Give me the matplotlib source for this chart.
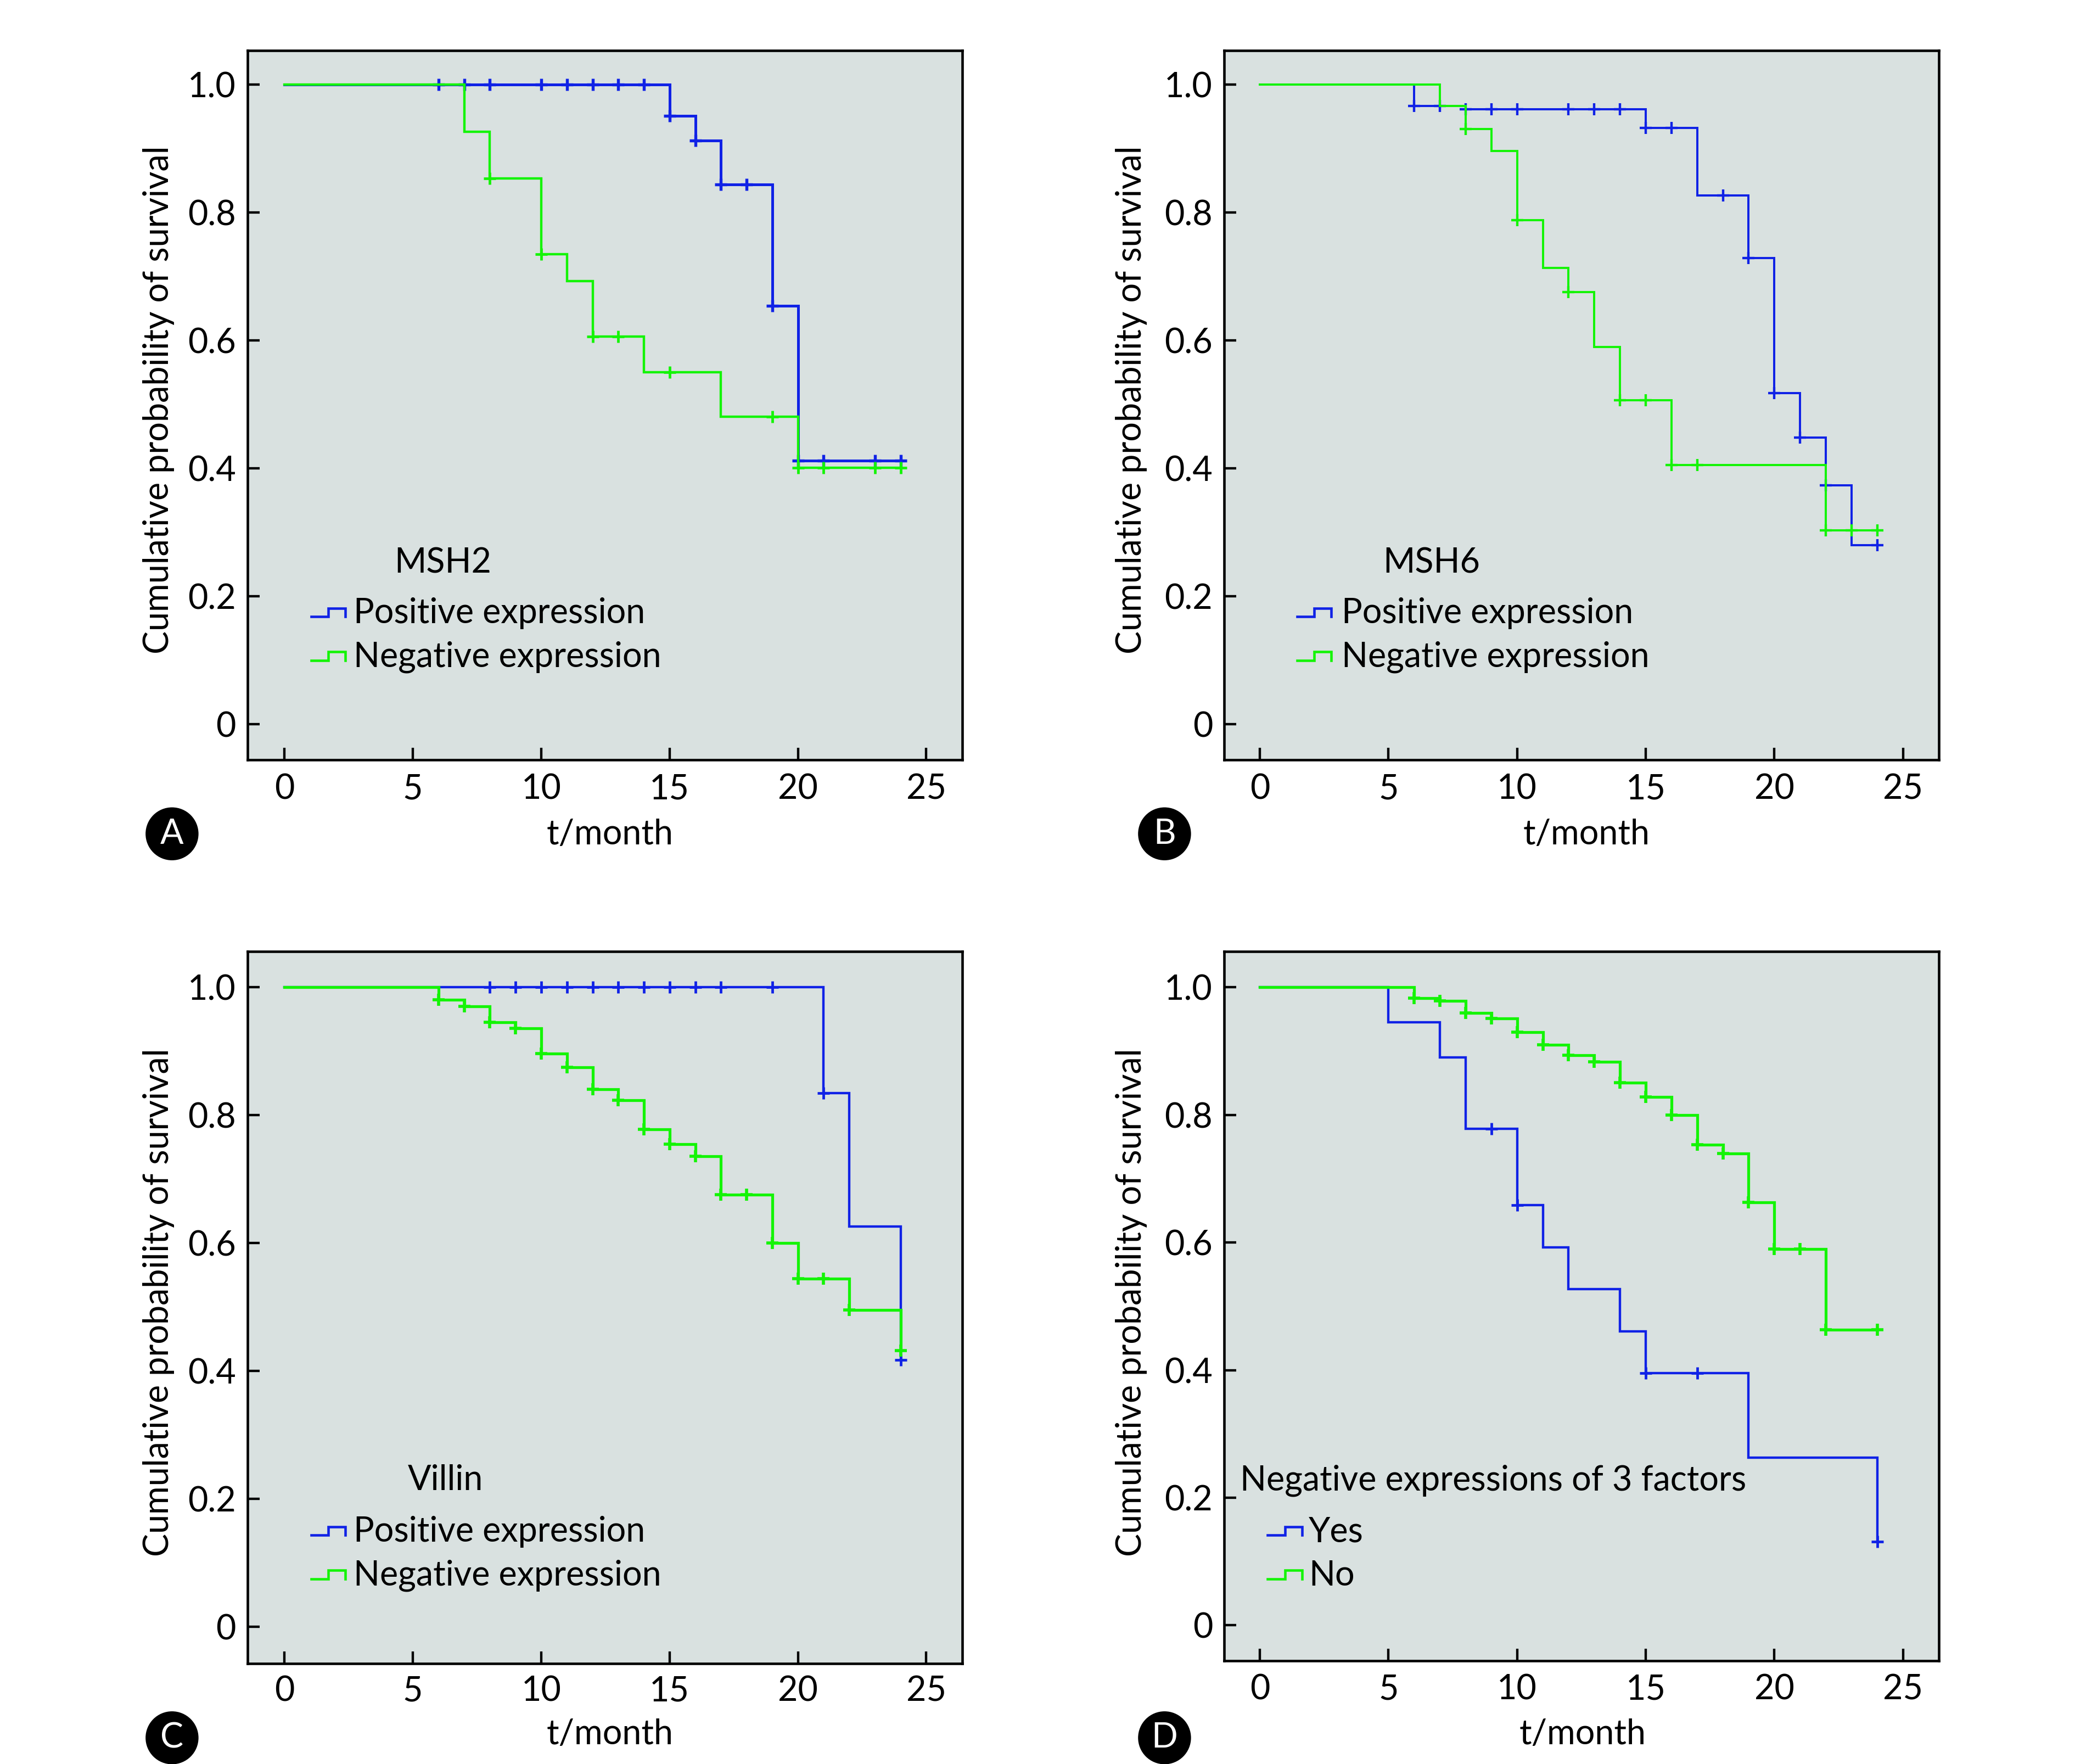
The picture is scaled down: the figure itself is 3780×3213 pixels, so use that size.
import matplotlib
matplotlib.use('Agg')
import matplotlib.pyplot as plt
from matplotlib.patches import Circle

plt.rcParams['font.family'] = ['Lato', 'DejaVu Sans']

W, H = 3780, 3213
S = 3780/1568  # the layout

BLUE = '#1022e6'
GREEN = '#14f406'
BG = '#d9e1e0'

# panel A - MSH2
a_pos_t = [0, 15, 16, 17, 19, 20, 24]
a_pos_s = [1.0, 0.951, 0.913, 0.844, 0.654, 0.412, 0.412]
a_pos_cx = [6, 7, 8, 10, 11, 12, 13, 14, 15, 16, 17, 18, 19, 20, 21, 23, 24]
a_neg_t = [0, 7, 8, 10, 11, 12, 14, 17, 20, 24]
a_neg_s = [1.0, 0.926, 0.853, 0.735, 0.693, 0.606, 0.55, 0.481, 0.401, 0.401]
a_neg_cx = [8, 10, 12, 13, 15, 19, 20, 21, 23, 24]

# panel B - MSH6
b_pos_t = [0, 6, 8, 15, 17, 19, 20, 21, 22, 23, 24]
b_pos_s = [1.0, 0.967, 0.962, 0.932, 0.827, 0.729, 0.518, 0.448, 0.373, 0.28, 0.28]
b_pos_cx = [6, 7, 8, 9, 10, 12, 13, 14, 15, 16, 18, 19, 20, 21, 22, 24]
b_neg_t = [0, 7, 8, 9, 10, 11, 12, 13, 14, 16, 22, 24]
b_neg_s = [1.0, 0.967, 0.931, 0.896, 0.788, 0.713, 0.676, 0.59, 0.506, 0.405, 0.303, 0.303]
b_neg_cx = [8, 10, 12, 14, 15, 16, 17, 22, 23, 24]

# panel C - Villin
c_pos_t = [0, 21, 22, 24]
c_pos_s = [1.0, 0.835, 0.626, 0.417]
c_pos_cx = [8, 9, 10, 11, 12, 13, 14, 15, 16, 17, 19, 21, 24]
c_neg_t = [0, 6, 7, 8, 9, 10, 11, 12, 13, 14, 15, 16, 17, 19, 20, 22, 24]
c_neg_s = [1.0, 0.981, 0.970, 0.945, 0.936, 0.896, 0.875, 0.841, 0.823, 0.778, 0.755, 0.736, 0.676, 0.6, 0.544, 0.495, 0.432]
c_neg_cx = [6, 7, 8, 9, 10, 11, 12, 13, 14, 15, 16, 17, 18, 19, 20, 21, 22, 24]

# panel D - 3 factors
d_yes_t = [0, 5, 7, 8, 10, 11, 12, 14, 15, 19, 24]
d_yes_s = [1.0, 0.945, 0.89, 0.778, 0.659, 0.592, 0.527, 0.461, 0.395, 0.263, 0.131]
d_yes_cx = [9, 10, 15, 17, 24]
d_no_t = [0, 6, 7, 8, 9, 10, 11, 12, 13, 14, 15, 16, 17, 18, 19, 20, 22, 24]
d_no_s = [1.0, 0.983, 0.979, 0.96, 0.951, 0.93, 0.91, 0.894, 0.883, 0.851, 0.828, 0.80, 0.753, 0.74, 0.663, 0.59, 0.463, 0.463]
d_no_cx = [6, 7, 8, 9, 10, 11, 12, 13, 14, 15, 16, 17, 18, 19, 20, 21, 22, 24]

xticks = [0, 5, 10, 15, 20, 25]
yticks = [0, 0.2, 0.4, 0.6, 0.8, 1.0]
ylabels = ['0', '0.2', '0.4', '0.6', '0.8', '1.0']
xlabel = 't/month'
ylabel = 'Cumulative probability of survival'


def km(ax, t, s, cx, color, lw):
    ax.step(t, s, where='post', color=color, lw=lw, solid_joinstyle='miter')
    # censored cases sit on the curve
    cy = []
    for c in cx:
        val = s[0]
        for i in range(len(t)):
            if t[i] <= c:
                val = s[i]
        cy.append(val)
    ax.plot(cx, cy, ls='none', marker='+', ms=5.5, mew=lw+0.1, color=color)


def key(ax, x0, y0, color):
    # little step glyph in front of the legend text (in shrunk px)
    xs = [x0, x0+13, x0+13, x0+26, x0+26]
    ys = [y0, y0, y0-6.5, y0-6.5, y0]
    ax.plot(xs, ys, color=color, lw=1.1, transform=ax.figure.trans_px, clip_on=False, solid_joinstyle='miter')


fig = plt.figure(figsize=(W/300, H/300), dpi=300)
# shrunk picture px, y from the top
fig.trans_px = matplotlib.transforms.Affine2D().scale(S, -S).translate(0, H)

panels = [
    # box l, r, t, b, y of 1.0 and 0, letter
    dict(box=(187, 727, 38, 574), x0=215, x25=700, y1=64, y0=547, letter='A', badge=(130, 630),
         curves=[(a_pos_t, a_pos_s, a_pos_cx, BLUE, 1.2), (a_neg_t, a_neg_s, a_neg_cx, GREEN, 1.05)],
         title='MSH2', title_xy=(298, 424), names=['Positive expression', 'Negative expression'],
         key_x=235, text_x=267, leg_y=(462, 495), xl=461, xl_y=629, yl=120, yl_y=302, pad=6),
    dict(box=(925, 1465, 38, 574), x0=952, x25=1438, y1=64, y0=547, letter='B', badge=(880, 630),
         curves=[(b_pos_t, b_pos_s, b_pos_cx, BLUE, 0.95), (b_neg_t, b_neg_s, b_neg_cx, GREEN, 0.95)],
         title='MSH6', title_xy=(1045, 424), names=['Positive expression', 'Negative expression'],
         key_x=980, text_x=1014, leg_y=(462, 495), xl=1199, xl_y=629, yl=855, yl_y=302, pad=6),
    dict(box=(187, 727, 719, 1257), x0=215, x25=700, y1=746, y0=1229, letter='C', badge=(130, 1313),
         curves=[(c_pos_t, c_pos_s, c_pos_cx, BLUE, 1.05), (c_neg_t, c_neg_s, c_neg_cx, GREEN, 1.25)],
         title='Villin', title_xy=(308, 1117), names=['Positive expression', 'Negative expression'],
         key_x=235, text_x=267, leg_y=(1156, 1189), xl=461, xl_y=1309, yl=120, yl_y=984, pad=5),
    dict(box=(925, 1465, 719, 1255), x0=952, x25=1438, y1=746, y0=1228, letter='D', badge=(880, 1313),
         curves=[(d_yes_t, d_yes_s, d_yes_cx, BLUE, 1.05), (d_no_t, d_no_s, d_no_cx, GREEN, 1.25)],
         title='Negative expressions of 3 factors', title_xy=(937, 1117), names=['Yes', 'No'],
         key_x=958, text_x=989, leg_y=(1156, 1189), xl=1196, xl_y=1309, yl=855, yl_y=984, pad=5.5),
]

FS = 15.1
DY = 1.5  # va center sits a bit high
for p in panels:
    l, r, t, b = p['box']
    ax = fig.add_axes([l*S/W, 1-b*S/H, (r-l)*S/W, (b-t)*S/H])
    ax.set_facecolor(BG)
    ux = (p['x25']-p['x0'])/25
    uy = p['y0']-p['y1']
    ax.set_xlim((l-p['x0'])/ux, (r-p['x0'])/ux)
    ax.set_ylim((p['y0']-b)/uy, (p['y0']-t)/uy)
    for cur in p['curves']:
        km(ax, *cur)
    ax.set_xticks(xticks)
    ax.set_yticks(yticks)
    ax.set_yticklabels(ylabels)
    ax.tick_params(direction='in', length=5.3, width=1.05, labelsize=FS, pad=5)
    ax.tick_params(axis='x', pad=p['pad'])
    for sp in ax.spines.values():
        sp.set_linewidth(1.1)

    # labels placed by hand like in the figure
    fig.text(p['xl']*S/W, 1-(p['xl_y']+DY)*S/H, xlabel, fontsize=FS, ha='center', va='center')
    fig.text(p['yl']*S/W, 1-p['yl_y']*S/H, ylabel, fontsize=FS, rotation=90, ha='center', va='center')
    fig.text(p['title_xy'][0]*S/W, 1-(p['title_xy'][1]+DY)*S/H, p['title'], fontsize=FS, ha='left', va='center')
    for i in range(2):
        fig.text(p['text_x']*S/W, 1-(p['leg_y'][i]+DY)*S/H, p['names'][i], fontsize=FS, ha='left', va='center')
        key(ax, p['key_x'], p['leg_y'][i]+4, [BLUE, GREEN][i])

    bx, by = p['badge']
    fig.add_artist(Circle((bx, by), 20, transform=fig.trans_px, color='black', lw=0))
    fig.text(bx*S/W, 1-by*S/H, p['letter'], color='white', fontsize=FS, ha='center', va='center')

fig.savefig('out.png', dpi=300, facecolor='white')
